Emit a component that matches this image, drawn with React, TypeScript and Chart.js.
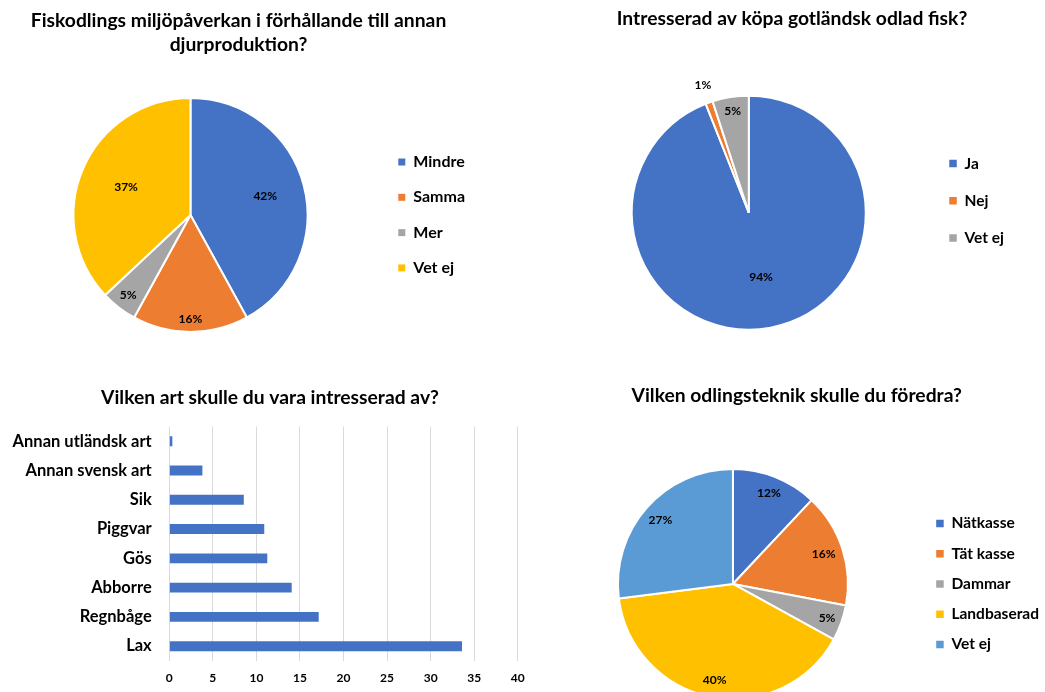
import React, { useEffect, useRef } from 'react';
import { Chart, registerables } from 'chart.js';

Chart.register(...registerables);

const FONT = 'Lato';
const TEXT = '#000000';
const TITLE_SIZE = 19.3;

// ---- Chart 1: environmental impact ----
const q1Title = ['Fiskodlings miljöpåverkan i förhållande till annan', 'djurproduktion?'];
const q1Labels = ['Mindre', 'Samma', 'Mer', 'Vet ej'];
const q1Values = [42, 16, 5, 37];
const q1Colors = ['#4472C4', '#ED7D31', '#A5A5A5', '#FFC000'];

// ---- Chart 2: interest in buying ----
const q2Title = 'Intresserad av köpa gotländsk odlad fisk?';
const q2Labels = ['Ja', 'Nej', 'Vet ej'];
const q2Values = [94, 1, 5];
const q2Colors = ['#4472C4', '#ED7D31', '#A5A5A5'];

// ---- Chart 3: species ----
const q3Title = 'Vilken art skulle du vara intresserad av?';
const q3Labels = ['Annan utländsk art', 'Annan svensk art', 'Sik', 'Piggvar', 'Gös', 'Abborre', 'Regnbåge', 'Lax'];
const q3Values = [0.35, 3.8, 8.55, 10.9, 11.25, 14.05, 17.15, 33.6];
const q3AxisMin = 0;
const q3AxisMax = 40;
const q3AxisStep = 5;

// ---- Chart 4: farming technique ----
const q4Title = 'Vilken odlingsteknik skulle du föredra?';
const q4Labels = ['Nätkasse', 'Tät kasse', 'Dammar', 'Landbaserad', 'Vet ej'];
const q4Values = [12, 16, 5, 40, 27];
const q4Colors = ['#4472C4', '#ED7D31', '#A5A5A5', '#FFC000', '#5B9BD5'];

const sliceLabelPlugin = {
  id: 'sliceLabels',
  afterDatasetsDraw(chart: any, _args: any, opts: any) {
    if (!opts || !opts.radii) return;
    const meta = chart.getDatasetMeta(0);
    const data = chart.data.datasets[0].data;
    const ctx = chart.ctx;
    ctx.save();
    ctx.font = `bold ${opts.size}px ${FONT}`;
    ctx.fillStyle = TEXT;
    ctx.textAlign = 'center';
    ctx.textBaseline = 'middle';
    meta.data.forEach((arc: any, i: number) => {
      const p = arc.getProps(['x', 'y', 'startAngle', 'endAngle', 'outerRadius'], true);
      const mid = (p.startAngle + p.endAngle) / 2;
      const r = p.outerRadius * opts.radii[i];
      ctx.fillText(`${data[i]}%`, p.x + Math.cos(mid) * r, p.y + Math.sin(mid) * r);
    });
    ctx.restore();
  },
};

function legendItems(chart: any) {
  const gen = (Chart as any).overrides.pie.plugins.legend.labels.generateLabels;
  return gen(chart).map((it: any) => ({ ...it, lineWidth: 0, fontColor: TEXT }));
}

function pieConfig(o: any): any {
  return {
    type: 'pie',
    data: {
      labels: o.labels,
      datasets: [
        {
          data: o.values,
          backgroundColor: o.colors,
          borderColor: '#ffffff',
          borderWidth: 2,
          radius: o.radius,
        },
      ],
    },
    plugins: [sliceLabelPlugin],
    options: {
      responsive: true,
      maintainAspectRatio: false,
      animation: false,
      layout: { padding: o.padding },
      plugins: {
        tooltip: { enabled: false },
        title: {
          display: true,
          text: o.title,
          color: TEXT,
          font: { family: FONT, size: TITLE_SIZE, weight: 'bold', lineHeight: o.titleLineHeight },
          padding: o.titlePadding,
        },
        legend: {
          position: 'right',
          fullSize: o.legendFullSize,
          labels: {
            color: TEXT,
            boxWidth: o.box,
            boxHeight: o.box,
            padding: o.legendPad,
            font: { family: FONT, size: o.legendSize, weight: 'bold' },
            generateLabels: legendItems,
          },
        },
        sliceLabels: { radii: o.labelRadii, size: 12 },
      },
    },
  };
}

const config1 = () =>
  pieConfig({
    labels: q1Labels,
    values: q1Values,
    colors: q1Colors,
    title: q1Title,
    radius: 117,
    padding: { left: 2, right: 45, top: 0, bottom: 0 },
    titleLineHeight: 1.26,
    titlePadding: { top: 8.5, bottom: 2.8 },
    legendFullSize: false,
    legendPad: 19.3,
    legendSize: 16,
    box: 7,
    labelRadii: [0.66, 0.89, 0.87, 0.6],
  });

const config2 = () =>
  pieConfig({
    labels: q2Labels,
    values: q2Values,
    colors: q2Colors,
    title: q2Title,
    radius: 117,
    padding: { left: 50, right: 31, top: 7, bottom: 5.6 },
    titleLineHeight: 1.2,
    titlePadding: { top: 0.4, bottom: 0.4 },
    legendFullSize: true,
    legendPad: 21.7,
    legendSize: 15.5,
    box: 7.5,
    labelRadii: [0.56, 1.16, 0.88],
  });

const config4 = () =>
  pieConfig({
    labels: q4Labels,
    values: q4Values,
    colors: q4Colors,
    title: q4Title,
    radius: 115,
    padding: { left: 4.4, right: 6, top: 0, bottom: 0 },
    titleLineHeight: 1.2,
    titlePadding: { top: 14.1, bottom: 2.7 },
    legendFullSize: false,
    legendPad: 14.75,
    legendSize: 15.5,
    box: 7.5,
    labelRadii: [0.85, 0.83, 0.87, 0.85, 0.84],
  });

const config3 = (): any => ({
  type: 'bar',
  data: {
    labels: q3Labels,
    datasets: [
      {
        data: q3Values,
        backgroundColor: '#4472C4',
        borderWidth: 0,
        barPercentage: 0.34,
        categoryPercentage: 1,
      },
    ],
  },
  options: {
    indexAxis: 'y',
    responsive: true,
    maintainAspectRatio: false,
    animation: false,
    layout: { padding: { left: 4.9, right: 0, top: 0, bottom: 0 } },
    plugins: {
      legend: { display: false },
      tooltip: { enabled: false },
      title: {
        display: true,
        text: q3Title,
        color: TEXT,
        font: { family: FONT, size: TITLE_SIZE, weight: 'bold', lineHeight: 1.2 },
        padding: { top: 16, bottom: 17.5 },
      },
    },
    scales: {
      x: {
        min: q3AxisMin,
        max: q3AxisMax,
        border: { display: false },
        grid: { color: '#D9D9D9', lineWidth: 1, drawTicks: false },
        ticks: {
          stepSize: q3AxisStep,
          padding: 10.4,
          color: TEXT,
          font: { family: FONT, size: 12, weight: 'bold' },
        },
      },
      y: {
        border: { display: false },
        grid: { display: false, drawTicks: false },
        ticks: {
          padding: 17.6,
          color: TEXT,
          font: { family: FONT, size: 16.5, weight: 'bold' },
        },
        afterFit: (scale: any) => {
          scale.width = 164.4;
        },
      },
    },
  },
});

function ChartBox(props: { left: number; top: number; width: number; height: number; make: () => any }) {
  const ref = useRef<HTMLCanvasElement>(null);
  useEffect(() => {
    const chart = new Chart(ref.current as HTMLCanvasElement, props.make());
    return () => chart.destroy();
  }, []);
  return (
    <div style={{ position: 'absolute', left: props.left, top: props.top, width: props.width, height: props.height }}>
      <canvas ref={ref} />
    </div>
  );
}

export default function App() {
  return (
    <div
      style={{
        position: 'fixed',
        left: 0,
        top: 0,
        width: 1045,
        height: 692,
        overflow: 'hidden',
        background: '#ffffff',
      }}
    >
      <ChartBox left={0} top={0} width={520} height={370} make={config1} />
      <ChartBox left={520} top={0} width={525} height={400} make={config2} />
      <ChartBox left={0} top={370} width={535.1} height={326} make={config3} />
      <ChartBox left={540} top={370} width={515} height={388} make={config4} />
    </div>
  );
}
